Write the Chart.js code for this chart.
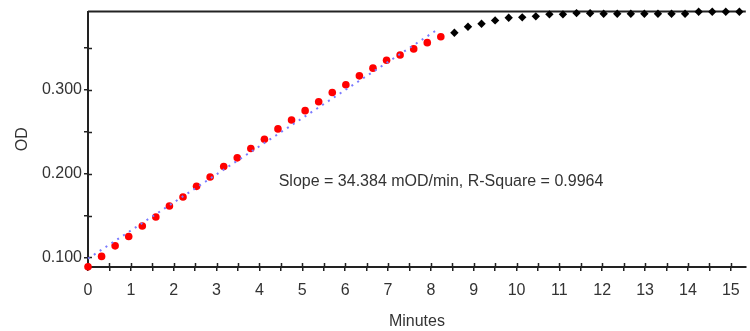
<!DOCTYPE html>
<html>
<head>
<meta charset="utf-8">
<script src="https://cdn.jsdelivr.net/npm/chart.js@4/dist/chart.umd.min.js"></script>
<style>
html, body { margin: 0; padding: 0; background: #fff; }
#wrap { width: 750px; height: 331px; }
</style>
</head>
<body>
<div id="wrap"><canvas id="chart"></canvas></div>
<script>
// read times (minutes), one read every ~19 s
const minutes = [
    0, 0.317, 0.633, 0.95, 1.267, 1.583, 1.9, 2.217, 2.533, 2.85,
    3.167, 3.483, 3.8, 4.117, 4.433, 4.75, 5.067, 5.383, 5.7, 6.017,
    6.333, 6.65, 6.967, 7.283, 7.6, 7.917, 8.233, 8.55, 8.867, 9.183,
    9.5, 9.817, 10.133, 10.45, 10.767, 11.083, 11.4, 11.717, 12.033, 12.35,
    12.667, 12.983, 13.3, 13.617, 13.933, 14.25, 14.567, 14.883, 15.2,
];
const odValues = [
    0.0888, 0.1012, 0.1138, 0.1250, 0.1376, 0.1483, 0.1614, 0.1721, 0.1849, 0.1960,
    0.2087, 0.2190, 0.2301, 0.2412, 0.2536, 0.2643, 0.2754, 0.2861, 0.2971, 0.3063,
    0.3170, 0.3262, 0.3357, 0.3420, 0.3492, 0.3567, 0.3638, 0.3686, 0.3757, 0.3793,
    0.3833, 0.3864, 0.3869, 0.3881, 0.3905, 0.3905, 0.3920, 0.3918, 0.3912, 0.3912,
    0.3912, 0.3912, 0.3912, 0.3912, 0.3912, 0.3936, 0.3936, 0.3936, 0.3936,
];
// first points used for the linear fit (red)
const linearCount = 27;
const fitMinutes = [0, 8.13];
const fitOd = [0.0985, 0.3715];
const slopeText = 'Slope = 34.384 mOD/min, R-Square = 0.9964';

const textColor = '#333';
const axisColor = '#222';
const fontFamily = '"Liberation Sans", Arial, sans-serif';
const labelAt = { x: 4.45, y: 0.19 };

function toPoints(xs, ys) {
    return xs.map((x, i) => ({ x: x, y: ys[i] }));
}

const allPoints = toPoints(minutes, odValues);

// top border, inner half of the ticks, and the fit text
const axisExtras = {
    id: 'axisExtras',
    beforeDatasetsDraw(chart) {
        const { ctx, chartArea: area, scales: { x, y } } = chart;
        ctx.save();
        ctx.strokeStyle = axisColor;
        ctx.lineWidth = 2;
        ctx.beginPath();
        ctx.moveTo(area.left, area.top);
        ctx.lineTo(area.right, area.top);
        ctx.stroke();
        ctx.lineWidth = 1.5;
        ctx.beginPath();
        x.ticks.forEach(t => {
            const px = Math.round(x.getPixelForValue(t.value)) + 0.5;
            ctx.moveTo(px, area.bottom);
            ctx.lineTo(px, area.bottom - 4);
        });
        y.ticks.forEach(t => {
            const py = Math.round(y.getPixelForValue(t.value)) + 0.5;
            ctx.moveTo(area.left, py);
            ctx.lineTo(area.left + 4, py);
        });
        ctx.stroke();
        ctx.fillStyle = textColor;
        ctx.font = '16px ' + fontFamily;
        ctx.textAlign = 'left';
        ctx.textBaseline = 'middle';
        ctx.fillText(slopeText, x.getPixelForValue(labelAt.x), y.getPixelForValue(labelAt.y));
        ctx.restore();
    },
};

new Chart(document.getElementById('chart'), {
    type: 'scatter',
    data: {
        datasets: [{
            label: 'Fit',
            type: 'line',
            data: toPoints(fitMinutes, fitOd),
            showLine: true,
            borderColor: '#7a7aff',
            borderWidth: 2,
            borderDash: [2, 5],
            pointRadius: 0,
            fill: false,
            clip: false,
        }, {
            label: 'Linear',
            data: allPoints.slice(0, linearCount),
            pointStyle: 'circle',
            pointRadius: 3.8,
            backgroundColor: '#ff0000',
            borderWidth: 0,
            clip: false,
        }, {
            label: 'Plateau',
            data: allPoints.slice(linearCount),
            pointStyle: 'rectRot',
            pointRadius: 4.2,
            backgroundColor: '#000000',
            borderWidth: 0,
            clip: false,
        }],
    },
    options: {
        responsive: true,
        maintainAspectRatio: false,
        animation: false,
        layout: { padding: { top: 10.5, right: 0, bottom: 0, left: 0 } },
        plugins: {
            legend: { display: false },
            tooltip: { enabled: false },
        },
        scales: {
            x: {
                type: 'linear',
                min: 0,
                max: 15.35,
                afterFit(scale) { scale.height = 64; },
                ticks: {
                    stepSize: 0.5,
                    includeBounds: false,
                    autoSkip: false,
                    maxRotation: 0,
                    padding: 10,
                    color: textColor,
                    font: { family: fontFamily, size: 16 },
                    callback: v => Number.isInteger(v) ? String(v) : '',
                },
                grid: {
                    drawOnChartArea: false,
                    tickLength: 4,
                    color: axisColor,
                    lineWidth: 1.5,
                },
                border: { color: axisColor, width: 2 },
                title: {
                    display: true,
                    text: 'Minutes',
                    color: textColor,
                    font: { family: fontFamily, size: 16 },
                    padding: { top: 1.5, bottom: 0 },
                },
            },
            y: {
                min: 0.0885,
                max: 0.3938,
                afterFit(scale) { scale.width = 88; },
                ticks: {
                    stepSize: 0.05,
                    includeBounds: false,
                    padding: 2,
                    color: textColor,
                    font: { family: fontFamily, size: 16 },
                    callback: v => Math.abs(v * 10 - Math.round(v * 10)) < 1e-6 ? v.toFixed(3) : '',
                },
                grid: {
                    drawOnChartArea: false,
                    tickLength: 4,
                    color: axisColor,
                    lineWidth: 1.5,
                },
                border: { color: axisColor, width: 2 },
                title: {
                    display: true,
                    text: 'OD',
                    color: textColor,
                    font: { family: fontFamily, size: 16 },
                    padding: { top: 13.4, bottom: 0 },
                },
            },
        },
    },
    plugins: [axisExtras],
});
</script>
</body>
</html>
